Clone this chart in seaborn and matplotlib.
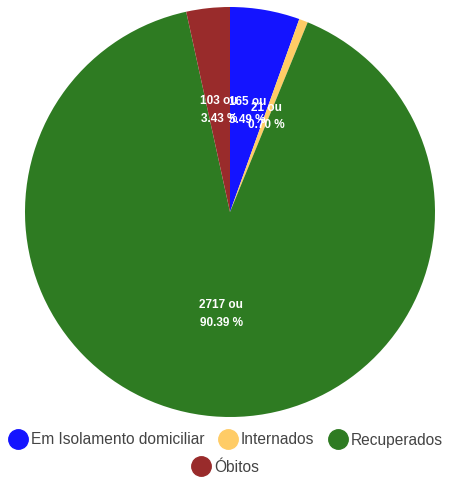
import matplotlib
matplotlib.use("Agg")
import matplotlib.pyplot as plt
from matplotlib.lines import Line2D
import seaborn as sns

# data
categorias = ["Em Isolamento domiciliar", "Internados", "Recuperados", "Óbitos"]
valores = [165, 21, 2717, 103]
cores = ["#1414ff", "#ffcc66", "#2e7b22", "#992b2b"]

sns.set_theme(style="white")
plt.rcParams['font.family'] = ['Liberation Sans', 'DejaVu Sans']

fig = plt.figure(figsize=(4.53, 4.79), dpi=100)
ax = fig.add_axes([25 / 453, 1 - 417 / 479, 410 / 453, 410 / 479])

it = iter(valores)


def rotulo(pct):
    v = next(it)
    return f"{v} ou\n{pct:.2f} %"


wedges, texts, autotexts = ax.pie(
    valores, colors=cores, startangle=90, counterclock=False,
    autopct=rotulo, pctdistance=0.5, radius=1,
    wedgeprops=dict(linewidth=0),
    textprops=dict(color="white", fontsize=8.5, fontweight="bold"))
for t in autotexts:
    t.set_linespacing(1.6)
ax.set_xlim(-1, 1)
ax.set_ylim(-1, 1)
ax.set_aspect("equal")
ax.axis("off")

handles = [Line2D([0], [0], marker="o", linestyle="", markersize=14,
                  markerfacecolor=c, markeredgecolor=c) for c in cores]

fig.legend(handles[:3], categorias[:3], loc="center", ncol=3,
           bbox_to_anchor=(0.5, 1 - 440 / 479), frameon=False,
           fontsize=11.2, handletextpad=0.35, columnspacing=1.0,
           handlelength=1.0, labelcolor="#444444")
fig.legend(handles[3:], categorias[3:], loc="center",
           bbox_to_anchor=(0.5, 1 - 467 / 479), frameon=False,
           fontsize=11.2, handletextpad=0.35, handlelength=1.0,
           labelcolor="#444444")

fig.savefig("out.png", dpi=100, facecolor="white")
